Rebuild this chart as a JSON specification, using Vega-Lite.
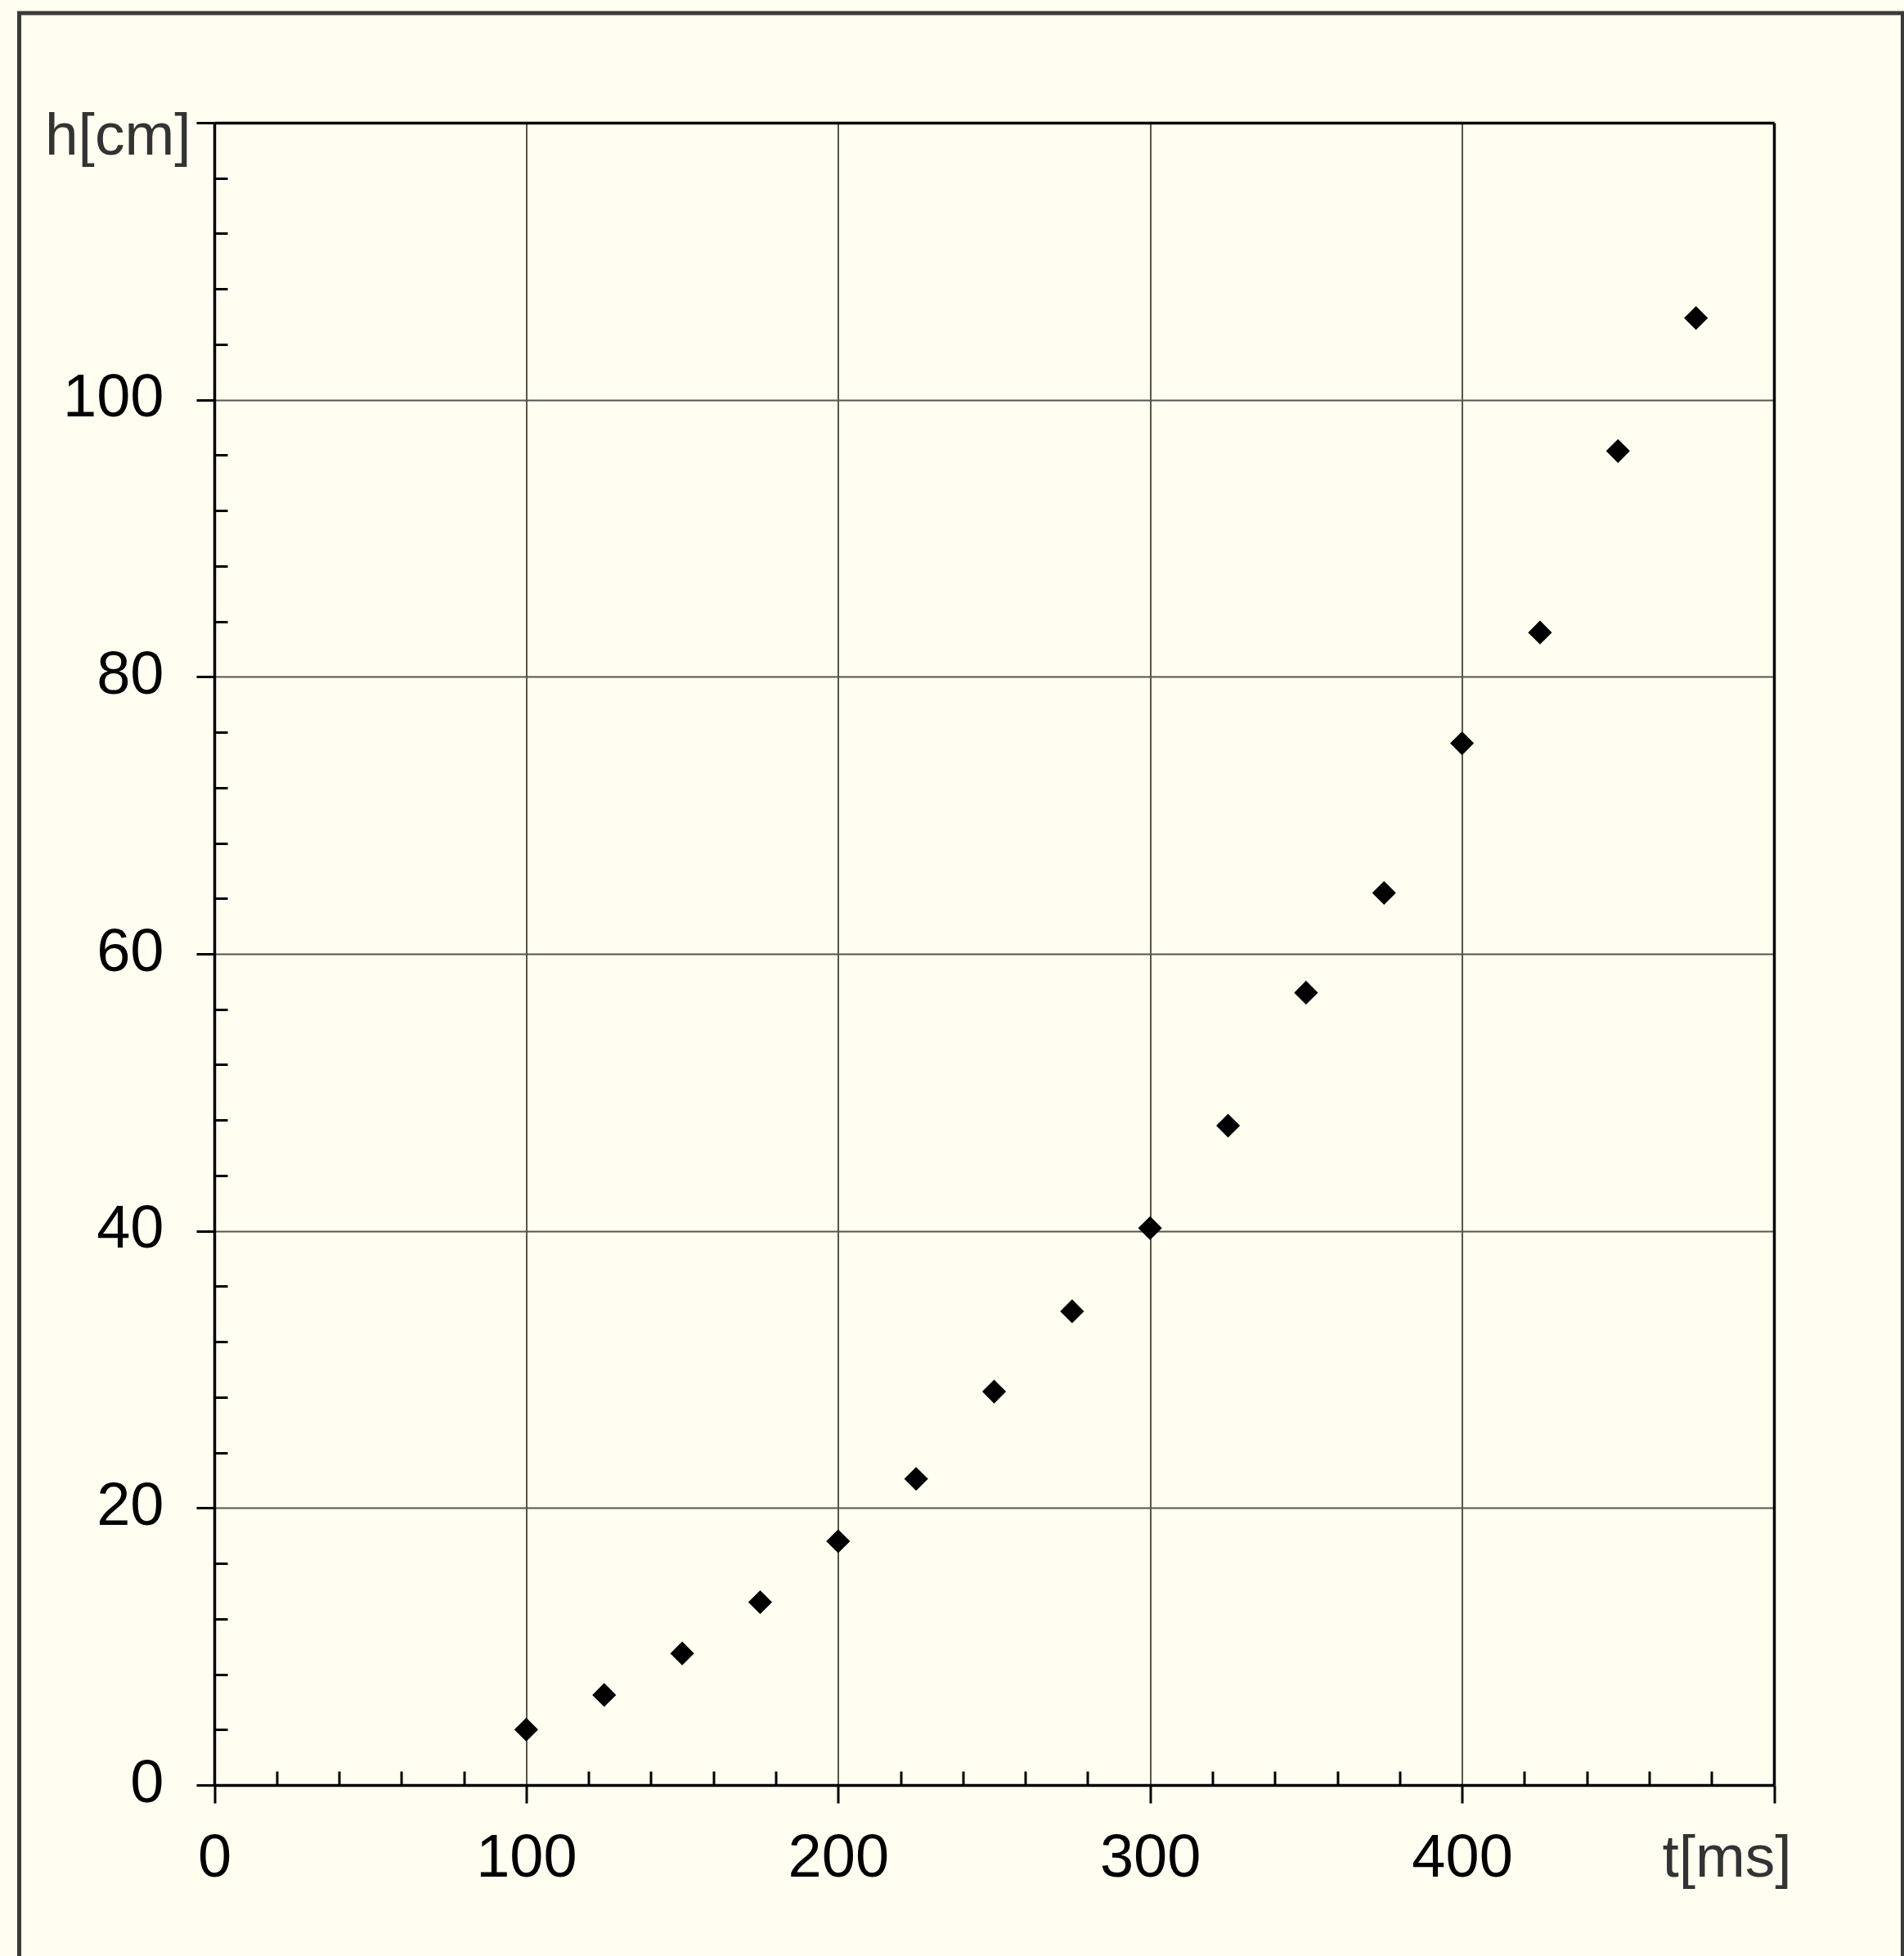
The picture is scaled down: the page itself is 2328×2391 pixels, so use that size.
{
  "$schema": "https://vega.github.io/schema/vega-lite/v6.json",
  "width": 2303,
  "height": 2375,
  "autosize": "none",
  "padding": {"left": 23.5, "top": 16, "right": 1.5, "bottom": 0},
  "background": "#fffef0",
  "config": {
    "view": {"stroke": "#3a3a3a", "strokeWidth": 5, "strokeDash": [4678, 2303, 2380], "fill": "#fffef0"},
    "axis": {
      "domainColor": "#000",
      "domainWidth": 3.5,
      "tickColor": "#000",
      "tickWidth": 3,
      "labelFont": "Liberation Sans",
      "labelFontSize": 74,
      "labelColor": "#000",
      "labelFlush": false,
      "labelOverlap": false,
      "titleFont": "Liberation Sans",
      "titleFontSize": 73,
      "titleFontWeight": "normal",
      "titleColor": "#333333",
      "gridColor": "#55554d",
      "gridWidth": 2,
      "gridOpacity": 1
    }
  },
  "data": {
    "values": [
      {"t": 100, "h": 4.0},
      {"t": 125, "h": 6.5},
      {"t": 150, "h": 9.5},
      {"t": 175, "h": 13.2},
      {"t": 200, "h": 17.6},
      {"t": 225, "h": 22.1},
      {"t": 250, "h": 28.4},
      {"t": 275, "h": 34.2},
      {"t": 300, "h": 40.2},
      {"t": 325, "h": 47.6},
      {"t": 350, "h": 57.2},
      {"t": 375, "h": 64.4},
      {"t": 400, "h": 75.2},
      {"t": 425, "h": 83.2},
      {"t": 450, "h": 96.3},
      {"t": 475, "h": 105.9}
    ]
  },
  "layer": [
    {
      "mark": {"type": "point", "opacity": 0},
      "encoding": {
        "x": {
          "field": "t", "type": "quantitative",
          "scale": {"domain": [0, 500], "range": [238.5, 2145.5], "nice": false, "zero": false},
          "axis": {"orient": "top", "offset": -134, "domain": true, "ticks": false, "labels": false, "grid": true, "values": [100, 200, 300, 400], "title": null}
        },
        "y": {
          "field": "h", "type": "quantitative",
          "scale": {"domain": [0, 120], "range": [2166, 134], "nice": false, "zero": false},
          "axis": {"orient": "right", "offset": -157.5, "domain": true, "ticks": false, "labels": false, "grid": false, "title": null}
        }
      }
    },
    {
      "mark": {"type": "point", "opacity": 0},
      "encoding": {
        "x": {
          "field": "t", "type": "quantitative",
          "scale": {"domain": [0, 500], "range": [238.5, 2145.5], "nice": false, "zero": false},
          "axis": {
            "orient": "bottom", "offset": -209, "domain": true, "ticks": true, "tickSize": 22, "grid": false,
            "values": [0, 100, 200, 300, 400, 500],
            "labelExpr": "datum.value == 500 ? '' : datum.label",
            "labelPadding": 89, "labelBaseline": "alphabetic",
            "title": "t[ms]", "titleX": 2087.5, "titleY": 111, "titleAlign": "center", "titleBaseline": "alphabetic", "titleAnchor": null
          }
        },
        "y": {
          "field": "h", "type": "quantitative",
          "scale": {"domain": [0, 120], "range": [2166, 134], "nice": false, "zero": false},
          "axis": {
            "orient": "left", "offset": -238.5, "domain": true, "ticks": true, "tickSize": 22, "grid": true,
            "values": [0, 20, 40, 60, 80, 100, 120],
            "labelExpr": "datum.value == 120 ? '' : datum.label",
            "labelPadding": 40, "labelBaseline": "middle", "labelAlign": "right", "labelOffset": -2,
            "title": "h[cm]", "titleAngle": 0, "titleX": -29, "titleY": 172, "titleAlign": "right", "titleBaseline": "alphabetic"
          }
        }
      }
    },
    {
      "mark": {"type": "point", "shape": "diamond", "filled": true, "color": "#000000", "opacity": 1, "size": 850},
      "encoding": {
        "x": {
          "field": "t", "type": "quantitative",
          "scale": {"domain": [0, 500], "range": [238.5, 2145.5], "nice": false, "zero": false},
          "axis": {
            "orient": "bottom", "offset": -209, "domain": false, "ticks": true, "tickSize": -17, "labels": false, "grid": false, "title": null,
            "values": [20, 40, 60, 80, 120, 140, 160, 180, 220, 240, 260, 280, 320, 340, 360, 380, 420, 440, 460, 480]
          }
        },
        "y": {
          "field": "h", "type": "quantitative",
          "scale": {"domain": [0, 120], "range": [2166, 134], "nice": false, "zero": false},
          "axis": {
            "orient": "left", "offset": -238.5, "domain": false, "ticks": true, "tickSize": -16, "labels": false, "grid": false, "title": null,
            "values": [4, 8, 12, 16, 24, 28, 32, 36, 44, 48, 52, 56, 64, 68, 72, 76, 84, 88, 92, 96, 104, 108, 112, 116]
          }
        }
      }
    }
  ],
  "resolve": {"axis": {"x": "independent", "y": "independent"}}
}
